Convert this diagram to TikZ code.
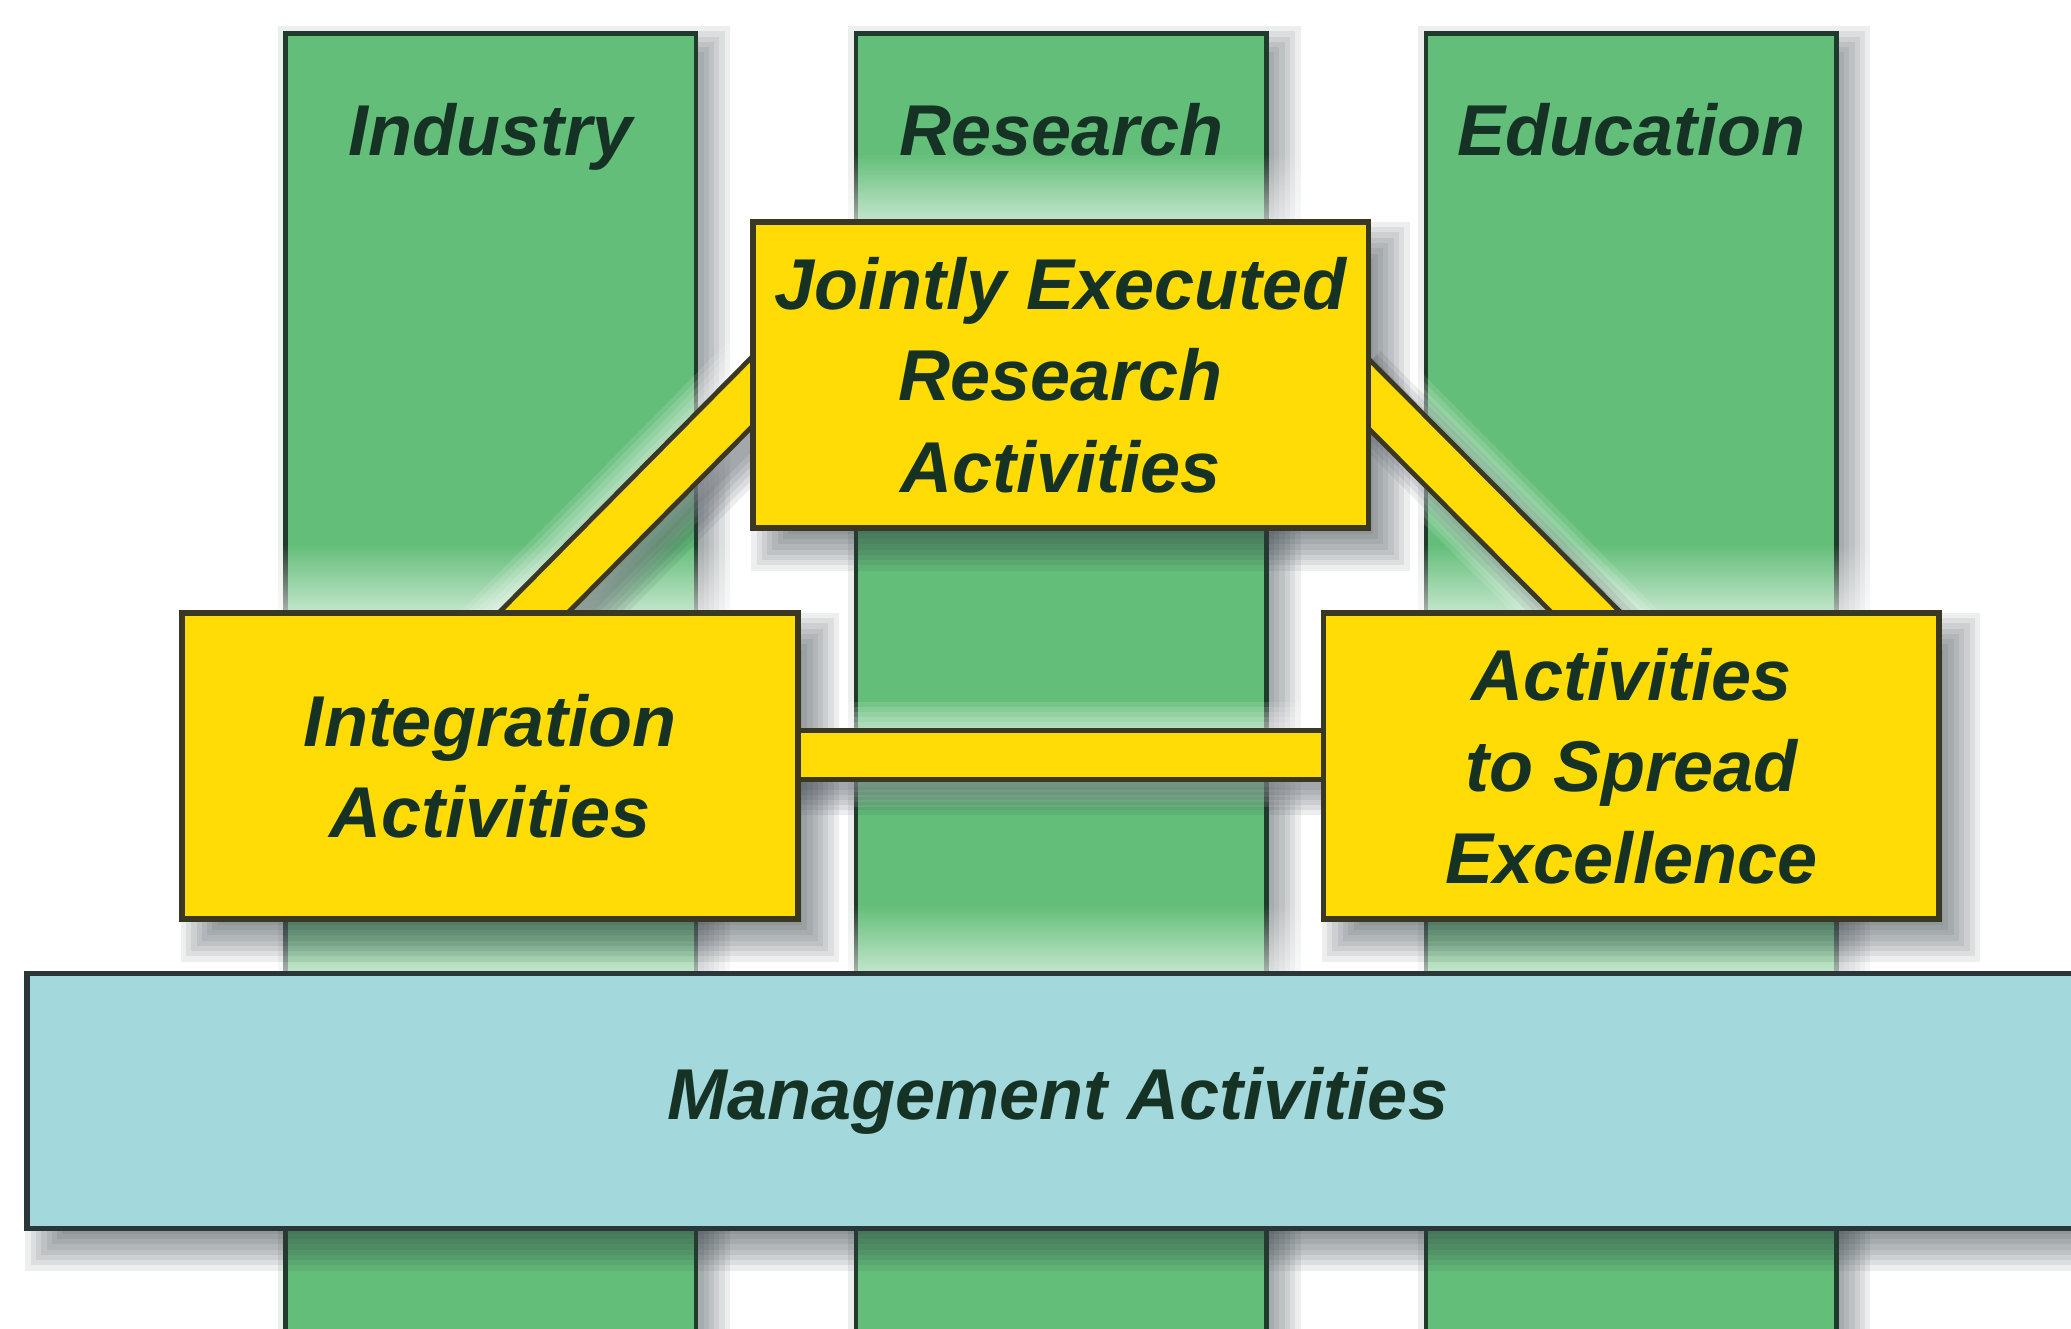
\documentclass[tikz,border=0pt]{standalone}
\usepackage{fontspec}
\setmainfont{Liberation Sans}
\usetikzlibrary{positioning, calc, fadings}

\definecolor{pillarGreen}{RGB}{99,190,121}
\definecolor{pillarEdge}{RGB}{31,59,43}
\definecolor{boxYellow}{RGB}{255,220,5}
\definecolor{boxEdge}{RGB}{58,56,34}
\definecolor{mgmtCyan}{RGB}{163,216,220}
\definecolor{mgmtEdge}{RGB}{42,54,56}
\definecolor{labelInk}{RGB}{22,50,36}
\definecolor{shadeInk}{RGB}{50,58,68}

\pgfdeclarelayer{floor}
\pgfdeclarelayer{back}
\pgfdeclarelayer{shade}
\pgfdeclarelayer{band}
\pgfsetlayers{floor,back,shade,band,main}

\tikzfading[name=glowup, top color=transparent!100, bottom color=transparent!0]

% blurred shadow behind a box: node, dx, dy
\newcommand{\softshade}[3]{%
  \foreach \r in {-14,-10,...,14}
    \fill[shadeInk, opacity=0.085]
      ([shift={({#2-(\r)},{#3-(\r)})}]#1.north west) rectangle ([shift={({#2+\r},{#3+\r})}]#1.south east);
}
% light halo just above a box
\newcommand{\glowabove}[1]{%
  \fill[white, opacity=0.6, path fading=glowup]
    ([shift={(0,-50)}]#1.north west) rectangle (#1.north east);
}

\begin{document}
\begin{tikzpicture}[
    x=0.013208cm, y=-0.013208cm,
    pillar/.style={draw=pillarEdge, line width=1.3pt, fill=pillarGreen,
        minimum width=4.108cm, minimum height=13.6cm, inner sep=0pt},
    words/.style={text=labelInk, font=\bfseries\itshape\fontsize{20.5}{26}\selectfont,
        align=center},
    activity/.style={words, draw=boxEdge, line width=1.6pt, fill=boxYellow,
        minimum width=6.16cm, minimum height=3.064cm, inner sep=0pt},
    mgmt/.style={words, draw=mgmtEdge, line width=1.6pt, fill=mgmtCyan,
        minimum width=20.63cm, minimum height=2.55cm, inner sep=0pt},
    link/.style={draw=boxEdge, line width=1.4pt, double=boxYellow,
        double distance=0.44cm},
    ]
    \useasboundingbox (0,0) rectangle (1568,1006);

    \begin{pgfonlayer}{back}
    \foreach \pname/\px/\ptitle in {ind/371.5/Industry, res/803.5/Research, edu/1235/Education} {
        \node[pillar] (\pname) at (\px,540) {};
        \node[words, anchor=base] (\pname-title) at ([shift={(0,94)}]\pname.north) {\ptitle};
    }
    \end{pgfonlayer}

    \begin{pgfonlayer}{floor}
    \fill[white] (0,0) rectangle (1568,1006);
    \foreach \pname in {ind,res,edu} {\softshade{\pname}{10}{10}}
    \end{pgfonlayer}

    \node[activity] (jre) at (803,284) {Jointly Executed\\Research\\Activities};
    \node[activity] (integ) at (371,580) {Integration\\Activities};
    \node[activity] (spread) at (1235,580) {Activities\\to Spread\\Excellence};
    \node[mgmt] (mgmt) at (801,833.5) {Management Activities};

    \coordinate (lnkLa) at ([shift={(28,-14)}]jre.west);
    \coordinate (lnkLb) at ([shift={(7,28)}]integ.north);
    \coordinate (lnkRa) at ([shift={(-28,-12)}]jre.east);
    \coordinate (lnkRb) at ([shift={(-8,28)}]spread.north);
    \coordinate (lnkHa) at ([shift={(-30,-8.5)}]integ.east);
    \coordinate (lnkHb) at ([shift={(30,-8.5)}]spread.west);

    \begin{pgfonlayer}{shade}
    \foreach \bx in {jre,integ,spread,mgmt} {\glowabove{\bx}}
    \foreach \w in {0.55,0.65,...,1.05}
        \foreach \a/\b in {lnkLa/lnkLb, lnkRa/lnkRb, lnkHa/lnkHb}
            \draw[white, opacity=0.12, line width=\w cm] (\a) -- (\b);
    \foreach \bx in {jre,integ,spread,mgmt} {\softshade{\bx}{15}{16}}
    \foreach \w in {0.3,0.4,...,0.8}
        \foreach \a/\b in {lnkLa/lnkLb, lnkRa/lnkRb, lnkHa/lnkHb}
            \draw[shadeInk, opacity=0.09, line width=\w cm,
                transform canvas={xshift=0.18cm, yshift=-0.2cm}] (\a) -- (\b);
    \end{pgfonlayer}

    \begin{pgfonlayer}{band}
    \draw[link] (lnkLa) -- (lnkLb);
    \draw[link] (lnkRa) -- (lnkRb);
    \draw[link] (lnkHa) -- (lnkHb);
    \end{pgfonlayer}
\end{tikzpicture}
\end{document}
